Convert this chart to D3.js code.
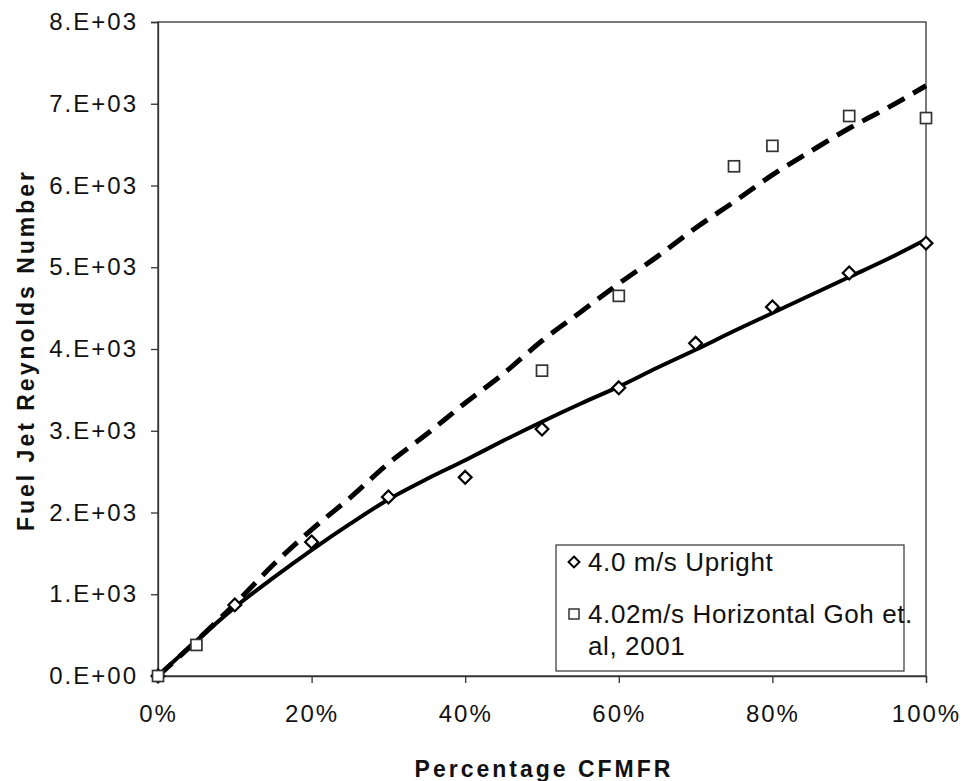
<!DOCTYPE html>
<html lang="en">
<head>
<meta charset="utf-8" />
<title>Fuel Jet Reynolds Number</title>
<script src="https://d3js.org/d3.v7.min.js"></script>
<style>
  body { margin: 0; background: #fff; }
  svg text { font-family: "Liberation Sans", Arial, sans-serif; fill: #111; }
  .tick text { font-size: 24px; letter-spacing: 2px; }
  .axis-title { font-size: 23px; font-weight: bold; letter-spacing: 3px; }
  .legend text { font-size: 26px; letter-spacing: 0.6px; }
</style>
</head>
<body>
<svg width="967" height="781"></svg>
<script>
// measured points, 4.0 m/s upright
var uprightPct = [0, 10, 20, 30, 40, 50, 60, 70, 80, 90, 100];
var uprightRe  = [0, 870, 1640, 2190, 2430, 3020, 3525, 4070, 4515, 4930, 5295];

// Goh et al. 2001, 4.02 m/s horizontal
var gohPct = [0, 5, 50, 60, 75, 80, 90, 100];
var gohRe  = [0, 380, 3735, 4650, 6235, 6485, 6850, 6825];

// solid curve (upright)
var uprightCurvePct = [0, 5, 10, 15, 20, 25, 30, 35, 40, 45, 50, 55, 60, 65, 70, 75, 80, 85, 90, 95, 100];
var uprightCurveRe  = [0, 430, 840, 1200, 1540, 1860, 2160, 2410, 2640, 2880, 3110, 3330, 3540, 3770, 3990, 4220, 4440, 4660, 4880, 5100, 5340];

// dashed curve (horizontal)
var gohCurvePct = [0, 5, 10, 15, 20, 25, 30, 35, 40, 45, 50, 55, 60, 65, 70, 75, 80, 85, 90, 95, 100];
var gohCurveRe  = [0, 430, 880, 1360, 1790, 2180, 2600, 2960, 3340, 3700, 4100, 4450, 4800, 5130, 5480, 5800, 6130, 6420, 6700, 6950, 7220];

var xTicks = [0, 20, 40, 60, 80, 100];
var yTicks = [0, 1000, 2000, 3000, 4000, 5000, 6000, 7000, 8000];

var svg = d3.select("svg");
var margin = {left: 158, right: 41, top: 22, bottom: 105};
var width = 967 - margin.left - margin.right,
    height = 781 - margin.top - margin.bottom;

var x = d3.scaleLinear().domain([0, 100]).range([0, width]);
var y = d3.scaleLinear().domain([0, 8000]).range([height, 0]);

var g = svg.append("g").attr("transform", "translate(" + margin.left + "," + margin.top + ")");

// frame
g.append("rect")
  .attr("width", width).attr("height", height)
  .attr("fill", "none").attr("stroke", "#333").attr("stroke-width", 1.3);

// axes
var xAxis = g.append("g")
  .attr("transform", "translate(0," + height + ")")
  .call(d3.axisBottom(x).tickValues(xTicks).tickSize(7).tickPadding(22)
    .tickFormat(function(d) { return d + "%"; }));

var yAxis = g.append("g")
  .call(d3.axisLeft(y).tickValues(yTicks).tickSize(7).tickPadding(13)
    .tickFormat(function(d) { return d === 0 ? "0.E+00" : (d / 1000) + ".E+03"; }));

[xAxis, yAxis].forEach(function(a) {
  a.select(".domain").attr("stroke", "#333").attr("stroke-width", 1.3);
  a.selectAll(".tick line").attr("stroke", "#333").attr("stroke-width", 1.3);
  a.selectAll(".tick text").attr("fill", "#111");
});
xAxis.selectAll(".tick text").attr("dy", "0.71em");

// curves
var line = d3.line()
  .x(function(d) { return x(d[0]); })
  .y(function(d) { return y(d[1]); })
  .curve(d3.curveMonotoneX);

g.append("path")
  .datum(d3.zip(uprightCurvePct, uprightCurveRe))
  .attr("d", line)
  .attr("fill", "none").attr("stroke", "#000").attr("stroke-width", 4)
  .attr("stroke-linejoin", "round");

g.append("path")
  .datum(d3.zip(gohCurvePct, gohCurveRe))
  .attr("d", line)
  .attr("fill", "none").attr("stroke", "#000").attr("stroke-width", 5)
  .attr("stroke-dasharray", "19,10");

// markers
var diamond = d3.symbol().type(d3.symbolDiamond2).size(105);

g.selectAll(".upright")
  .data(d3.zip(uprightPct, uprightRe))
  .join("path")
  .attr("class", "upright")
  .attr("d", diamond)
  .attr("transform", function(d) { return "translate(" + x(d[0]) + "," + y(d[1]) + ")"; })
  .attr("fill", "#fff").attr("stroke", "#000").attr("stroke-width", 2.2);

g.selectAll(".goh")
  .data(d3.zip(gohPct, gohRe))
  .join("rect")
  .attr("class", "goh")
  .attr("x", function(d) { return x(d[0]) - 5.5; })
  .attr("y", function(d) { return y(d[1]) - 5.5; })
  .attr("width", 11).attr("height", 11)
  .attr("fill", "#fff").attr("stroke", "#333").attr("stroke-width", 1.7);

// axis titles
svg.append("text")
  .attr("class", "axis-title")
  .attr("x", 544).attr("y", 777)
  .attr("text-anchor", "middle")
  .text("Percentage CFMFR");

svg.append("text")
  .attr("class", "axis-title")
  .attr("transform", "translate(34,350) rotate(-90)")
  .attr("text-anchor", "middle")
  .text("Fuel Jet Reynolds Number");

// legend
var legend = svg.append("g").attr("class", "legend");
legend.append("rect")
  .attr("x", 556).attr("y", 545).attr("width", 348).attr("height", 126)
  .attr("fill", "#fff").attr("stroke", "#333").attr("stroke-width", 1.2);

legend.append("path")
  .attr("d", d3.symbol().type(d3.symbolDiamond2).size(75))
  .attr("transform", "translate(574,562)")
  .attr("fill", "#fff").attr("stroke", "#000").attr("stroke-width", 2);
legend.append("text").attr("x", 588).attr("y", 571).text("4.0 m/s Upright");

legend.append("rect")
  .attr("x", 569).attr("y", 609).attr("width", 10).attr("height", 10)
  .attr("fill", "#fff").attr("stroke", "#333").attr("stroke-width", 1.5);
legend.append("text").attr("x", 588).attr("y", 623).text("4.02m/s Horizontal Goh et.");
legend.append("text").attr("x", 588).attr("y", 655).text("al, 2001");
</script>
</body>
</html>
